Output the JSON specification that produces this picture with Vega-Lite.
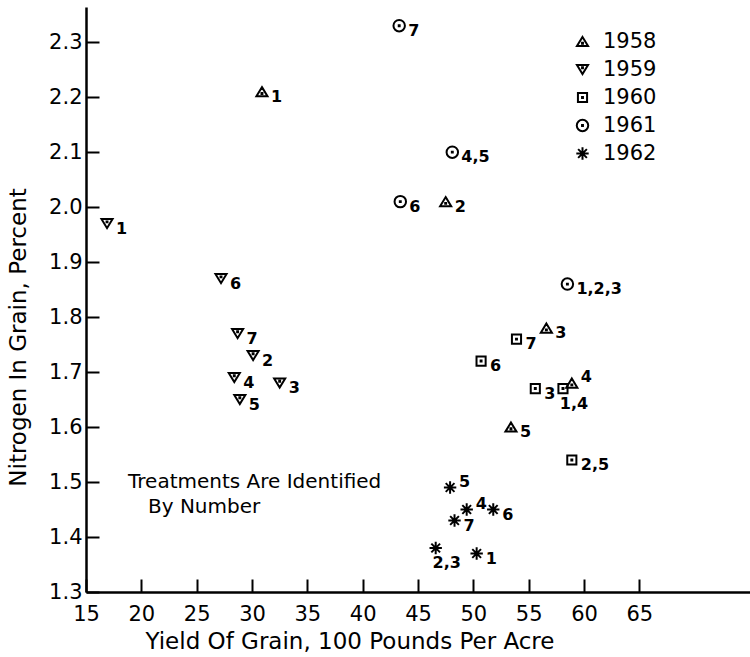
{
  "$schema": "https://vega.github.io/schema/vega-lite/v6.json",
  "width": 664,
  "height": 585,
  "autosize": {"type": "none"},
  "padding": {"left": 86, "top": 7, "right": 0, "bottom": 65},
  "background": "white",
  "config": {
    "view": {"stroke": null},
    "font": "DejaVu Sans",
    "axis": {
      "grid": false,
      "domainColor": "black",
      "domainWidth": 2.5,
      "tickColor": "black",
      "tickWidth": 2,
      "tickSize": -13,
      "labelColor": "black",
      "labelFont": "DejaVu Sans",
      "labelFontSize": 21,
      "labelFlush": false,
      "titleColor": "black",
      "titleFont": "DejaVu Sans",
      "titleFontSize": 23,
      "titleFontWeight": "normal"
    },
    "legend": {
      "orient": "none",
      "legendX": 486,
      "legendY": 24,
      "padding": 0,
      "labelFont": "DejaVu Sans",
      "labelFontSize": 21,
      "labelColor": "black",
      "symbolSize": 170,
      "symbolStrokeWidth": 2,
      "symbolStrokeColor": "black",
      "symbolFillColor": "transparent",
      "rowPadding": 6,
      "labelOffset": 10
    }
  },
  "datasets": {
    "points": [
      {"year": "1958", "treat": "1", "x": 30.9, "y": 2.21},
      {"year": "1958", "treat": "2", "x": 47.5, "y": 2.01},
      {"year": "1958", "treat": "3", "x": 56.6, "y": 1.78},
      {"year": "1958", "treat": "4", "x": 58.9, "y": 1.68},
      {"year": "1958", "treat": "5", "x": 53.4, "y": 1.6},
      {"year": "1959", "treat": "1", "x": 16.9, "y": 1.97},
      {"year": "1959", "treat": "6", "x": 27.2, "y": 1.87},
      {"year": "1959", "treat": "7", "x": 28.7, "y": 1.77},
      {"year": "1959", "treat": "2", "x": 30.1, "y": 1.73},
      {"year": "1959", "treat": "4", "x": 28.4, "y": 1.69},
      {"year": "1959", "treat": "3", "x": 32.5, "y": 1.68},
      {"year": "1959", "treat": "5", "x": 28.9, "y": 1.65},
      {"year": "1960", "treat": "7", "x": 53.9, "y": 1.76},
      {"year": "1960", "treat": "6", "x": 50.7, "y": 1.72},
      {"year": "1960", "treat": "3", "x": 55.6, "y": 1.67},
      {"year": "1960", "treat": "1,4", "x": 58.1, "y": 1.67},
      {"year": "1960", "treat": "2,5", "x": 58.9, "y": 1.54},
      {"year": "1961", "treat": "7", "x": 43.3, "y": 2.33},
      {"year": "1961", "treat": "4,5", "x": 48.1, "y": 2.1},
      {"year": "1961", "treat": "6", "x": 43.4, "y": 2.01},
      {"year": "1961", "treat": "1,2,3", "x": 58.5, "y": 1.86},
      {"year": "1962", "treat": "5", "x": 47.9, "y": 1.49},
      {"year": "1962", "treat": "4", "x": 49.4, "y": 1.45},
      {"year": "1962", "treat": "6", "x": 51.8, "y": 1.45},
      {"year": "1962", "treat": "7", "x": 48.3, "y": 1.43},
      {"year": "1962", "treat": "2,3", "x": 46.6, "y": 1.38},
      {"year": "1962", "treat": "1", "x": 50.3, "y": 1.37}
    ],
    "notes": [
      {"text": "Treatments Are Identified", "x": 18.8, "y": 1.5},
      {"text": "By Number", "x": 20.6, "y": 1.455}
    ]
  },
  "layer": [
    {
      "data": {"name": "points"},
      "mark": {"type": "point", "filled": false, "color": "black", "strokeWidth": 2, "size": 170, "opacity": 1},
      "encoding": {
        "x": {
          "field": "x", "type": "quantitative",
          "scale": {"domain": [15, 75], "nice": false, "zero": false},
          "axis": {
            "values": [15, 20, 25, 30, 35, 40, 45, 50, 55, 60, 65],
            "title": "Yield Of Grain, 100 Pounds Per Acre",
            "labelPadding": 24,
            "titleAnchor": "start",
            "titleAlign": "left",
            "titleX": 59,
            "titleY": 56,
            "titleBaseline": "alphabetic"
          }
        },
        "y": {
          "field": "y", "type": "quantitative",
          "scale": {"domain": [1.3, 2.364], "nice": false, "zero": false},
          "axis": {
            "values": [1.3, 1.4, 1.5, 1.6, 1.7, 1.8, 1.9, 2.0, 2.1, 2.2, 2.3],
            "format": ".1f",
            "title": "Nitrogen In Grain, Percent",
            "labelPadding": 17,
            "titleX": -68,
            "titleY": 330,
            "titleAlign": "center",
            "titleBaseline": "middle",
            "titleAngle": -90
          }
        },
        "shape": {
          "field": "year", "type": "nominal",
          "scale": {
            "domain": ["1958", "1959", "1960", "1961", "1962"],
            "range": [
              "M0,-0.7L0.85,0.7L-0.85,0.7ZM-0.07,0.2L0.07,0.2L0.07,0.34L-0.07,0.34Z",
              "M-0.85,-0.7L0.85,-0.7L0,0.7ZM-0.07,-0.34L0.07,-0.34L0.07,-0.2L-0.07,-0.2Z",
              "M-0.7,-0.7L0.7,-0.7L0.7,0.7L-0.7,0.7ZM-0.07,-0.07L0.07,-0.07L0.07,0.07L-0.07,0.07Z",
              "M-0.88,0A0.88,0.88 0 1,0 0.88,0A0.88,0.88 0 1,0 -0.88,0ZM-0.07,-0.07L0.07,-0.07L0.07,0.07L-0.07,0.07Z",
              "M-0.95,0L0.95,0M0,-0.95L0,0.95M-0.67,-0.67L0.67,0.67M-0.67,0.67L0.67,-0.67"
            ]
          },
          "legend": {"title": null}
        }
      }
    },
    {
      "data": {"name": "points"},
      "transform": [{"filter": "indexof(['1958|4','1962|5','1962|4','1960|1,4','1962|2,3'], datum.year + '|' + datum.treat) < 0"}],
      "mark": {"type": "text", "align": "left", "baseline": "middle", "dx": 9, "dy": 5, "fontSize": 16, "fontWeight": "bold", "color": "black"},
      "encoding": {
        "x": {"field": "x", "type": "quantitative"},
        "y": {"field": "y", "type": "quantitative"},
        "text": {"field": "treat"}
      }
    },
    {
      "data": {"name": "points"},
      "transform": [{"filter": "indexof(['1958|4','1962|5','1962|4'], datum.year + '|' + datum.treat) >= 0"}],
      "mark": {"type": "text", "align": "left", "baseline": "middle", "dx": 9, "dy": -6, "fontSize": 16, "fontWeight": "bold", "color": "black"},
      "encoding": {
        "x": {"field": "x", "type": "quantitative"},
        "y": {"field": "y", "type": "quantitative"},
        "text": {"field": "treat"}
      }
    },
    {
      "data": {"name": "points"},
      "transform": [{"filter": "indexof(['1960|1,4','1962|2,3'], datum.year + '|' + datum.treat) >= 0"}],
      "mark": {"type": "text", "align": "center", "baseline": "middle", "dx": 11, "dy": 15, "fontSize": 16, "fontWeight": "bold", "color": "black"},
      "encoding": {
        "x": {"field": "x", "type": "quantitative"},
        "y": {"field": "y", "type": "quantitative"},
        "text": {"field": "treat"}
      }
    },
    {
      "data": {"name": "notes"},
      "mark": {"type": "text", "align": "left", "baseline": "middle", "fontSize": 20, "color": "black"},
      "encoding": {
        "x": {"field": "x", "type": "quantitative"},
        "y": {"field": "y", "type": "quantitative"},
        "text": {"field": "text"}
      }
    }
  ]
}
